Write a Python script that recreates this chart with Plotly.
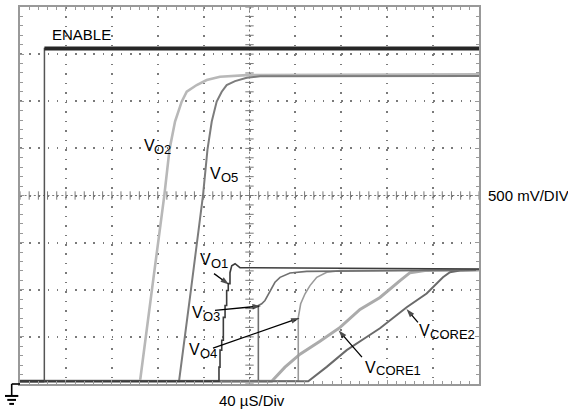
import numpy as np
import plotly.graph_objects as go

# Scope screen: 10 horizontal divisions of 40 µs, 8 vertical divisions of 500 mV
T_DIV = 40.0
V_DIV = 0.5
N_XDIV = 10
N_YDIV = 8
T_MAX = T_DIV * N_XDIV
V_MAX = V_DIV * N_YDIV

# Captured waveforms (time in µs, level in V)
enable_t = [0, 21.2, 21.3, 400]
enable_v = [0.03, 0.03, 3.56, 3.56]

vo2_t = [0, 104.6, 115.0, 125.8, 130.3, 135.1, 140.9, 145.3, 154.0, 162.7, 174.3, 197.6, 400]
vo2_v = [0.03, 0.03, 1.002, 2.004, 2.489, 2.785, 2.996, 3.101, 3.172, 3.225, 3.260, 3.277, 3.285]

vo5_t = [0, 138.6, 149.0, 159.5, 163.4, 167.1, 171.4, 175.8, 180.1, 187.4, 197.6, 209.2, 400]
vo5_v = [0.03, 0.03, 1.002, 2.004, 2.489, 2.785, 2.996, 3.101, 3.172, 3.214, 3.249, 3.265, 3.268]

vo1_t = [0, 173.4, 173.4, 174.3, 174.3, 175.8, 175.8, 177.2, 177.2, 178.7, 178.7,
         180.1, 180.1, 181.5, 181.5, 183.0, 183.0, 184.5, 187.4, 191.7, 400]
vo1_v = [0.03, 0.03, 0.179, 0.179, 0.359, 0.359, 0.464, 0.464, 0.707, 0.707, 0.833,
         0.833, 0.992, 0.992, 1.065, 1.065, 1.181, 1.255, 1.276, 1.234, 1.22]

vo3_t = [0, 207.7, 207.7, 210.6, 213.5, 217.9, 222.2, 226.6, 235.3, 249.9, 400]
vo3_v = [0.03, 0.03, 0.833, 0.851, 0.886, 0.992, 1.079, 1.132, 1.178, 1.195, 1.21]

vo4_t = [0, 242.5, 242.5, 244.6, 248.4, 252.7, 258.6, 267.3, 278.9, 400]
vo4_v = [0.03, 0.03, 0.704, 0.851, 0.957, 1.044, 1.132, 1.185, 1.203, 1.21]

vcore1_t = [0, 219.4, 230.9, 244.0, 261.4, 278.9, 296.3, 313.7, 331.2, 339.9, 352.9, 400]
vcore1_v = [0.03, 0.03, 0.179, 0.316, 0.454, 0.601, 0.791, 0.918, 1.097, 1.181, 1.203, 1.21]

vcore2_t = [0, 251.2, 267.3, 284.7, 302.1, 313.7, 337.0, 354.4, 368.6, 374.7, 383.4, 400]
vcore2_v = [0.03, 0.03, 0.182, 0.359, 0.499, 0.591, 0.815, 0.960, 1.132, 1.185, 1.203, 1.21]

FONT = "Liberation Sans, Arial, sans-serif"
GRID = "#7a7a7a"
FRAME = "#999999"

fig = go.Figure()

# Centre crosshair of the graticule: dotted lines with tick marks every 1/5 division
fig.add_trace(go.Scatter(x=[0, T_MAX], y=[V_MAX / 2] * 2, mode="lines",
                         line=dict(color=GRID, width=1, dash="2px,2.6px"),
                         hoverinfo="skip", showlegend=False))
fig.add_trace(go.Scatter(x=[T_MAX / 2] * 2, y=[0, V_MAX], mode="lines",
                         line=dict(color=GRID, width=1, dash="2px,2.7px"),
                         hoverinfo="skip", showlegend=False))
tick_t = np.arange(0, T_MAX + 1e-9, T_DIV / 5)
tick_v = np.arange(0, V_MAX + 1e-9, V_DIV / 5)
fig.add_trace(go.Scatter(x=tick_t, y=np.full(tick_t.size, V_MAX / 2), mode="markers",
                         marker=dict(symbol="line-ns", size=6, line=dict(color=GRID, width=1)),
                         hoverinfo="skip", showlegend=False))
fig.add_trace(go.Scatter(x=np.full(tick_v.size, T_MAX / 2), y=tick_v, mode="markers",
                         marker=dict(symbol="line-ew", size=6, line=dict(color=GRID, width=1)),
                         hoverinfo="skip", showlegend=False))

# Waveforms, lighter channels first
waves = [
    ("VCORE1", vcore1_t, vcore1_v, "#ababab", 3.0),
    ("VO4", vo4_t, vo4_v, "#9a9a9a", 1.6),
    ("VO2", vo2_t, vo2_v, "#b8b8b8", 2.6),
    ("VO5", vo5_t, vo5_v, "#7c7c7c", 2.0),
    ("VCORE2", vcore2_t, vcore2_v, "#6a6a6a", 2.0),
    ("VO3", vo3_t, vo3_v, "#707070", 1.6),
    ("VO1", vo1_t, vo1_v, "#3c3c3c", 1.6),
]
for name, t, v, color, width in waves:
    fig.add_trace(go.Scatter(x=t, y=v, mode="lines", name=name,
                             line=dict(color=color, width=width),
                             hoverinfo="skip", showlegend=False))

# ENABLE: thin rising edge, heavy high level
fig.add_trace(go.Scatter(x=enable_t, y=enable_v, mode="lines", name="ENABLE",
                         line=dict(color="#555555", width=1.5),
                         hoverinfo="skip", showlegend=False))
fig.add_trace(go.Scatter(x=enable_t[2:], y=enable_v[2:], mode="lines", name="ENABLE high",
                         line=dict(color="#262626", width=4),
                         hoverinfo="skip", showlegend=False))
fig.add_trace(go.Scatter(x=enable_t[:2], y=enable_v[:2], mode="lines", name="ENABLE low",
                         line=dict(color="#3a3a3a", width=2.5),
                         hoverinfo="skip", showlegend=False))

# Pointer arrows: (tail_t, tail_v, tip_t, tip_v)
arrows = [
    (169.1, 1.171, 182.1, 1.055),
    (169.9, 0.781, 210.0, 0.828),
    (168.2, 0.380, 243.6, 0.701),
    (298.0, 0.285, 277.6, 0.570),
    (346.8, 0.654, 336.8, 0.796),
]
for ax, ay, x, y in arrows:
    fig.add_trace(go.Scatter(x=[ax, x], y=[ay, y], mode="lines+markers",
                             line=dict(color="black", width=1.3),
                             marker=dict(symbol="arrow", size=[0, 9], angleref="previous",
                                         color="black", line=dict(width=0)),
                             hoverinfo="skip", showlegend=False))

annotations = []


def add_text(text, x, y, size, xref="x", yref="y"):
    annotations.append(dict(x=x, y=y, xref=xref, yref=yref, text=text, showarrow=False,
                            xanchor="left", yanchor="middle",
                            font=dict(family=FONT, size=size, color="black")))


# Signal names: a 16 px "V" followed by a lowered 13 px subscript
V_ADVANCE = 9.3      # width of the "V" glyph, in µs
SUB_DROP = 0.042     # subscript drop, in V
signal_labels = [
    ("O2", 106.1, 2.53),
    ("O5", 163.8, 2.235),
    ("O1", 155.1, 1.318),
    ("O3", 148.1, 0.76),
    ("O4", 145.5, 0.37),
    ("CORE1", 298.9, 0.18),
    ("CORE2", 346.0, 0.57),
]
add_text("ENABLE", 26.1, 3.703, 15)
for sub, x, y in signal_labels:
    add_text("V", x, y, 16)
    add_text(sub, x + V_ADVANCE, y - SUB_DROP, 13)

add_text("500 mV/DIV", 1.0153, 0.5013, 15, "paper", "paper")
add_text("40 µS/Div", 0.4285, -0.045, 15, "paper", "paper")

# Ground reference symbol at the lower-left corner of the screen
gnd = [
    (-0.0181, 0.0, 0.0, 0.0, 1.6),
    (-0.0181, 0.0, -0.0181, -0.0317, 1.6),
    (-0.0327, -0.0317, -0.0037, -0.0317, 2.0),
    (-0.0277, -0.0422, -0.0087, -0.0422, 2.0),
    (-0.0233, -0.0528, -0.0131, -0.0528, 2.0),
]
shapes = [dict(type="line", xref="paper", yref="paper", x0=a, y0=b, x1=c, y1=d,
               line=dict(color="black", width=w)) for a, b, c, d, w in gnd]

axis_common = dict(showticklabels=False, zeroline=False, showline=True, linecolor=FRAME,
                   linewidth=2, mirror="allticks", ticks="inside", ticklen=4,
                   tickcolor=FRAME, tickwidth=1, showgrid=True, gridcolor=GRID, gridwidth=1.5)

fig.update_layout(
    width=568, height=414, autosize=False,
    margin=dict(l=20, r=89, t=5, b=30),
    paper_bgcolor="white", plot_bgcolor="white",
    xaxis=dict(range=[0, T_MAX], dtick=T_DIV, tick0=0, griddash="1.5px,7.98px",
               minor=dict(dtick=T_DIV / 5, tick0=0, ticks="inside", ticklen=3,
                          tickcolor=FRAME, showgrid=False), **axis_common),
    yaxis=dict(range=[0, V_MAX], dtick=V_DIV, tick0=0, griddash="1.5px,7.68px",
               minor=dict(dtick=V_DIV / 5, tick0=0, ticks="inside", ticklen=3,
                          tickcolor=FRAME, showgrid=False), **axis_common),
    annotations=annotations, shapes=shapes, hovermode=False, showlegend=False,
)

fig.write_html("out.html")
